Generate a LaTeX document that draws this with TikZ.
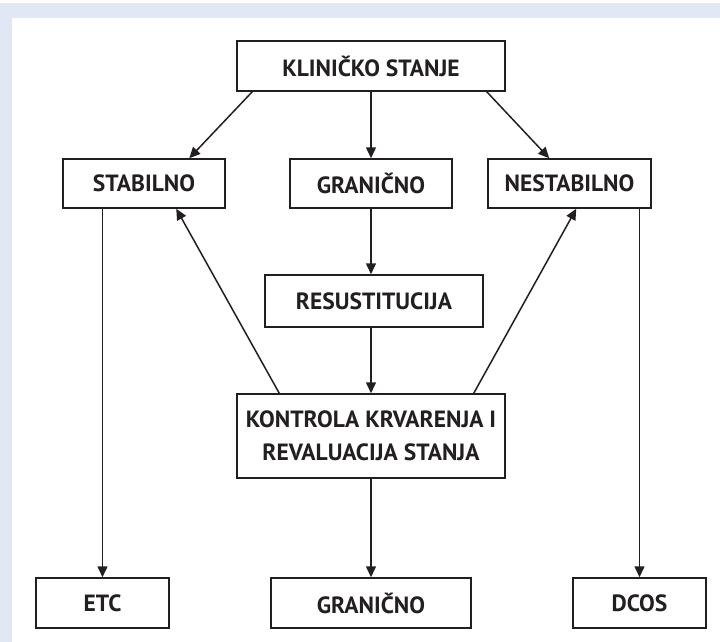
\documentclass[tikz,border=0pt]{standalone}
\usepackage{fontspec}
\setmainfont{PT Sans}
\usetikzlibrary{arrows.meta,calc}
\definecolor{bgblue}{HTML}{E1E8F5}
\definecolor{ink}{HTML}{231F20}
\begin{document}
\begin{tikzpicture}[x=1pt,y=-1pt,
  box/.style={draw=ink,line width=1.5pt,fill=white,inner sep=0pt,align=center,
    font=\fontsize{23.5}{33}\selectfont\bfseries,text=ink},
  arr/.style={draw=ink,line width=1.5pt,-{Triangle[length=11pt,width=10pt]}}]
\useasboundingbox (0,0) rectangle (720,642);
\fill[white] (0,0) rectangle (720,642);
\fill[bgblue] (0,3) rectangle (720,642);
\fill[white] (12,18) rectangle (720,642);

\node[box,minimum width=268pt,minimum height=50pt] (kl) at (371,66) {KLINIČKO STANJE};
\node[box,minimum width=162pt,minimum height=49pt] (stab) at (144,183.5) {STABILNO};
\node[box,minimum width=162pt,minimum height=49pt] (gran) at (371,183.5) {GRANIČNO};
\node[box,minimum width=163pt,minimum height=49pt] (nest) at (569.5,183.5) {NESTABILNO};
\node[box,minimum width=218pt,minimum height=52pt] (res) at (374,301) {RESUSTITUCIJA};
\node[box,minimum width=268pt,minimum height=84pt] (kon) at (371,436) {KONTROLA KRVARENJA I\\REVALUACIJA STANJA};
\node[box,minimum width=133pt,minimum height=50pt] (etc) at (102.5,603) {ETC};
\node[box,minimum width=200pt,minimum height=50pt] (gran2) at (371,603) {GRANIČNO};
\node[box,minimum width=133pt,minimum height=50pt] (dcos) at (639.5,603) {DCOS};

\draw[arr] ([xshift=16pt]kl.south west) -- ([xshift=127pt]stab.north west);
\draw[arr] (kl.south) -- (gran.north);
\draw[arr] ([xshift=-19pt]kl.south east) -- ([xshift=62pt]nest.north west);
\draw[arr] (gran.south) -- (gran.south |- res.north);
\draw[arr] (kon.north |- res.south) -- (kon.north);
\draw[arr] ([xshift=43pt]kon.north west) -- ([xshift=114pt]stab.south west);
\draw[arr] ([xshift=-32pt]kon.north east) -- ([xshift=89pt]nest.south west);
\draw[arr] (etc.north |- stab.south) -- (etc.north);
\draw[arr] (kon.south) -- (gran2.north);
\draw[arr] (dcos.north |- nest.south) -- (dcos.north);
\end{tikzpicture}
\end{document}
